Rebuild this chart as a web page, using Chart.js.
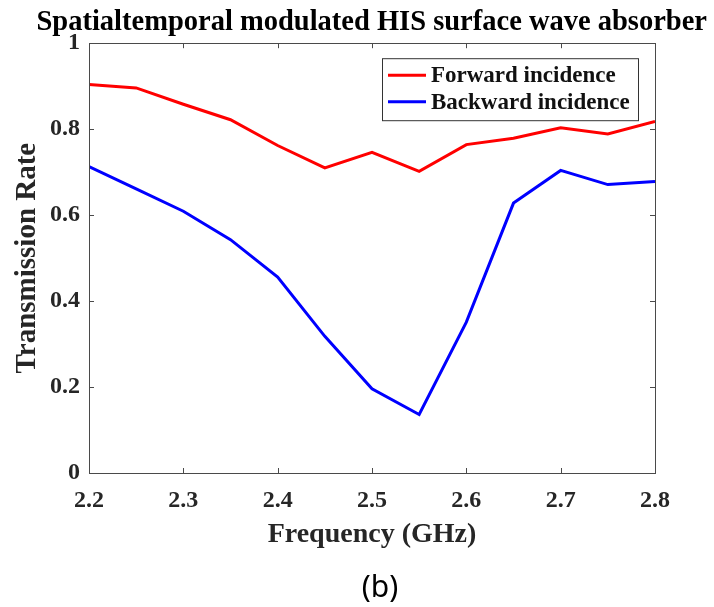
<!DOCTYPE html>
<html>
<head>
<meta charset="utf-8">
<script src="https://cdn.jsdelivr.net/npm/chart.js@4.4.1/dist/chart.umd.min.js"></script>
<style>
  html, body { margin: 0; padding: 0; background: #fff; }
  #wrap { position: relative; width: 714px; height: 607px; }
  #c { display: block; }
  #cap { position: absolute; left: 0; width: 760px; top: 566px; text-align: center;
         font-family: 'Noto Sans', 'Open Sans', sans-serif; font-size: 30px; color: #000; line-height: 40px; }
</style>
</head>
<body>
<div id="wrap">
  <canvas id="c" width="714" height="607"></canvas>
  <div id="cap">(b)</div>
</div>
<script>
const frequencies = [2.2, 2.25, 2.3, 2.35, 2.4, 2.45, 2.5, 2.55, 2.6, 2.65, 2.7, 2.75, 2.8];
const forwardIncidence = [0.904, 0.896, 0.858, 0.822, 0.762, 0.710, 0.746, 0.702, 0.764, 0.779, 0.803, 0.789, 0.818];
const backwardIncidence = [0.713, 0.661, 0.609, 0.543, 0.456, 0.318, 0.196, 0.136, 0.351, 0.628, 0.704, 0.671, 0.678];
const xTicks = [2.2, 2.3, 2.4, 2.5, 2.6, 2.7, 2.8];
const yTicks = [0, 0.2, 0.4, 0.6, 0.8, 1];
const seriesLabels = ['Forward incidence', 'Backward incidence'];
const seriesColors = ['#ff0000', '#0000ff'];

const serif = "'Liberation Serif', 'Times New Roman', serif";
const axisColor = '#4a4a4a';
const textColor = '#262626';

function toPoints(xs, ys) { return xs.map((x, i) => ({ x: x, y: ys[i] })); }

const boxPlugin = {
  id: 'boxPlugin',
  afterDatasetsDraw(chart) {
    const { ctx, chartArea: a } = chart;
    const xs = chart.scales.x, ys = chart.scales.y;
    ctx.save();
    ctx.strokeStyle = axisColor;
    ctx.lineWidth = 1;
    ctx.strokeRect(Math.round(a.left) + 0.5, Math.round(a.top) + 0.5, Math.round(a.right - a.left), Math.round(a.bottom - a.top));
    const tl = 5;
    ctx.beginPath();
    xTicks.forEach(v => {
      const px = Math.round(xs.getPixelForValue(v)) + 0.5;
      ctx.moveTo(px, a.bottom); ctx.lineTo(px, a.bottom - tl);
      ctx.moveTo(px, a.top); ctx.lineTo(px, a.top + tl);
    });
    yTicks.forEach(v => {
      const py = Math.round(ys.getPixelForValue(v)) + 0.5;
      ctx.moveTo(a.left, py); ctx.lineTo(a.left + tl, py);
      ctx.moveTo(a.right, py); ctx.lineTo(a.right - tl, py);
    });
    ctx.stroke();

    // legend
    const bx = a.right - 273, by = a.top + 15, bw = 256, bh = 62;
    ctx.fillStyle = '#fff';
    ctx.fillRect(bx, by, bw, bh);
    ctx.strokeStyle = '#333';
    ctx.strokeRect(bx + 0.5, by + 0.5, bw, bh);
    ctx.font = "bold 23px " + serif;
    ctx.textBaseline = 'middle';
    ctx.textAlign = 'left';
    chart.data.datasets.forEach((ds, i) => {
      const y = by + 17 + i * 26.5;
      ctx.strokeStyle = ds.borderColor;
      ctx.lineWidth = 3;
      ctx.beginPath();
      ctx.moveTo(bx + 6, y); ctx.lineTo(bx + 44, y);
      ctx.stroke();
      ctx.fillStyle = '#111';
      ctx.fillText(ds.label, bx + 49, y + 1);
    });
    ctx.restore();
  }
};

new Chart(document.getElementById('c'), {
  type: 'line',
  data: {
    datasets: [
      { label: seriesLabels[0], data: toPoints(frequencies, forwardIncidence), borderColor: seriesColors[0], backgroundColor: seriesColors[0], borderWidth: 3, pointRadius: 0, tension: 0, xAxisID: 'x', yAxisID: 'y' },
      { label: seriesLabels[1], data: toPoints(frequencies, backwardIncidence), borderColor: seriesColors[1], backgroundColor: seriesColors[1], borderWidth: 3, pointRadius: 0, tension: 0, xAxisID: 'x', yAxisID: 'y' }
    ]
  },
  options: {
    responsive: false,
    animation: false,
    devicePixelRatio: 1,
    layout: { padding: { left: 0, right: 7, top: 0, bottom: 0 } },
    plugins: {
      legend: { display: false },
      tooltip: { enabled: false },
      title: {
        display: true,
        text: 'Spatialtemporal modulated HIS surface wave absorber',
        align: 'end',
        color: '#000',
        font: { family: serif, size: 28.5, weight: 'bold', lineHeight: 1.2 },
        padding: { top: 6, bottom: 3 }
      }
    },
    scales: {
      x: {
        type: 'linear', position: 'bottom', min: 2.2, max: 2.8,
        afterBuildTicks(scale) { scale.ticks = xTicks.map(v => ({ value: v })); },
        afterFit(scale) { scale.height = 134; },
        grid: { display: false, drawTicks: false },
        border: { display: false },
        ticks: { color: textColor, padding: 13, maxRotation: 0, font: { family: serif, size: 24, weight: 'bold' },
                 callback: v => String(Math.round(v * 10) / 10) },
        title: { display: true, text: 'Frequency (GHz)', color: textColor,
                 font: { family: serif, size: 28, weight: 'bold', lineHeight: 1.2 }, padding: { top: 0, bottom: 55 } }
      },
      y: {
        type: 'linear', position: 'left', min: 0, max: 1,
        afterBuildTicks(scale) { scale.ticks = yTicks.map(v => ({ value: v })); },
        afterFit(scale) { scale.width = 89; },
        grid: { display: false, drawTicks: false },
        border: { display: false },
        ticks: { color: textColor, padding: 9, font: { family: serif, size: 24, weight: 'bold' },
                 callback: v => String(Math.round(v * 10) / 10) },
        title: { display: true, text: 'Transmission Rate', color: textColor,
                 font: { family: serif, size: 29, weight: 'bold', lineHeight: 1.2 }, padding: { top: 10, bottom: 0 } }
      },
      yRight: {
        type: 'linear', position: 'right', min: 0, max: 1,
        afterFit(scale) { scale.width = 52; },
        grid: { display: false, drawTicks: false },
        border: { display: false },
        ticks: { display: false }
      }
    }
  },
  plugins: [boxPlugin]
});
</script>
</body>
</html>
